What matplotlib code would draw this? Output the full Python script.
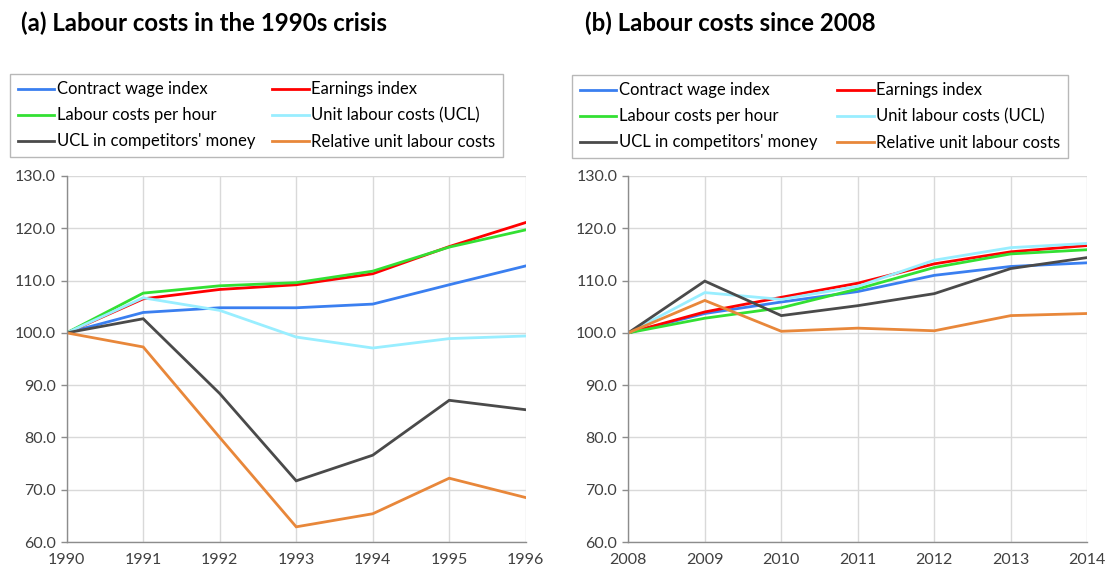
import numpy as np
import matplotlib.pyplot as plt

# data
years_a = [1990, 1991, 1992, 1993, 1994, 1995, 1996]
years_b = [2008, 2009, 2010, 2011, 2012, 2013, 2014]

labels = ['Contract wage index', 'Earnings index', 'Labour costs per hour',
          'Unit labour costs (UCL)', "UCL in competitors' money", 'Relative unit labour costs']
colors = ['#3a7ff0', '#ff0000', '#33e033', '#99eeff', '#4a4a4a', '#e8873a']

contract_a = [100.0, 103.9, 104.8, 104.8, 105.5, 109.2, 112.8]
earnings_a = [100.0, 106.5, 108.3, 109.2, 111.3, 116.5, 121.1]
hourly_a = [100.0, 107.6, 109.0, 109.6, 111.8, 116.4, 119.7]
ucl_a = [100.0, 106.7, 104.3, 99.2, 97.1, 98.9, 99.4]
ucl_comp_a = [100.0, 102.7, 88.4, 71.7, 76.6, 87.1, 85.3]
relative_a = [100.0, 97.3, 80.0, 62.9, 65.4, 72.2, 68.5]

contract_b = [100.0, 103.7, 105.9, 107.9, 111.0, 112.7, 113.4]
earnings_b = [100.0, 104.0, 106.8, 109.5, 113.2, 115.5, 116.7]
hourly_b = [100.0, 102.8, 104.8, 108.4, 112.5, 115.1, 115.9]
ucl_b = [100.0, 107.7, 106.4, 108.9, 113.9, 116.3, 117.1]
ucl_comp_b = [100.0, 109.9, 103.3, 105.2, 107.5, 112.3, 114.4]
relative_b = [100.0, 106.2, 100.3, 100.9, 100.4, 103.3, 103.7]

series_a = [contract_a, earnings_a, hourly_a, ucl_a, ucl_comp_a, relative_a]
series_b = [contract_b, earnings_b, hourly_b, ucl_b, ucl_comp_b, relative_b]

plt.rcParams['font.family'] = ['Lato', 'DejaVu Sans']

W, H = 1106, 570
fig = plt.figure(figsize=(W / 100, H / 100), dpi=100)
fig.patch.set_facecolor('white')

panels = [
    ('(a) Labour costs in the 1990s crisis', years_a, series_a, 66.7, 21, (10, 74, 493)),
    ('(b) Labour costs since 2008', years_b, series_b, 628.3, 585, (572, 75, 496)),
]

for title, years, series, x0, tx, box in panels:
    ax = fig.add_axes([x0 / W, (H - 542) / H, 459 / W, 366 / H])
    lines = []
    for vals, lab, col in zip(series, labels, colors):
        ln, = ax.plot(years, vals, color=col, linewidth=2.0, label=lab, solid_joinstyle='miter')
        lines.append(ln)
    ax.set_xlim(years[0], years[-1])
    ax.set_ylim(60, 130)
    ax.set_xticks(years)
    ax.set_yticks(np.arange(60, 131, 10))
    ax.yaxis.set_major_formatter(plt.FuncFormatter(lambda v, p: '%.1f' % v))
    ax.grid(True, color='#d9d9d9', linewidth=1.0)
    ax.set_axisbelow(True)
    for s in ['top', 'right']:
        ax.spines[s].set_visible(False)
    for s in ['left', 'bottom']:
        ax.spines[s].set_color('#8c8c8c')
        ax.spines[s].set_linewidth(1.0)
    ax.tick_params(axis='both', colors='#8c8c8c', labelcolor='#404040', labelsize=11.5, length=4.5, width=1.0)
    ax.tick_params(axis='x', length=0, pad=8)

    fig.text(tx / W, 1 - 23 / H, title, fontsize=17.3, fontweight='bold', va='center', ha='left')

    # excel fills rows, matplotlib fills columns
    order = [0, 2, 4, 1, 3, 5]
    bx, by, bw = box
    leg = fig.legend([lines[i] for i in order], [labels[i] for i in order],
                     loc='upper left', ncol=2, mode='expand',
                     bbox_to_anchor=(bx / W, 1 - by / H, bw / W, 0.0001),
                     fontsize=12, frameon=True, fancybox=False, handlelength=2.2,
                     handletextpad=0.15, borderaxespad=0, labelspacing=0.6,
                     borderpad=0.45)
    leg.get_frame().set_edgecolor('#a6a6a6')
    leg.get_frame().set_linewidth(1.0)

fig.savefig('out.png', dpi=100)
